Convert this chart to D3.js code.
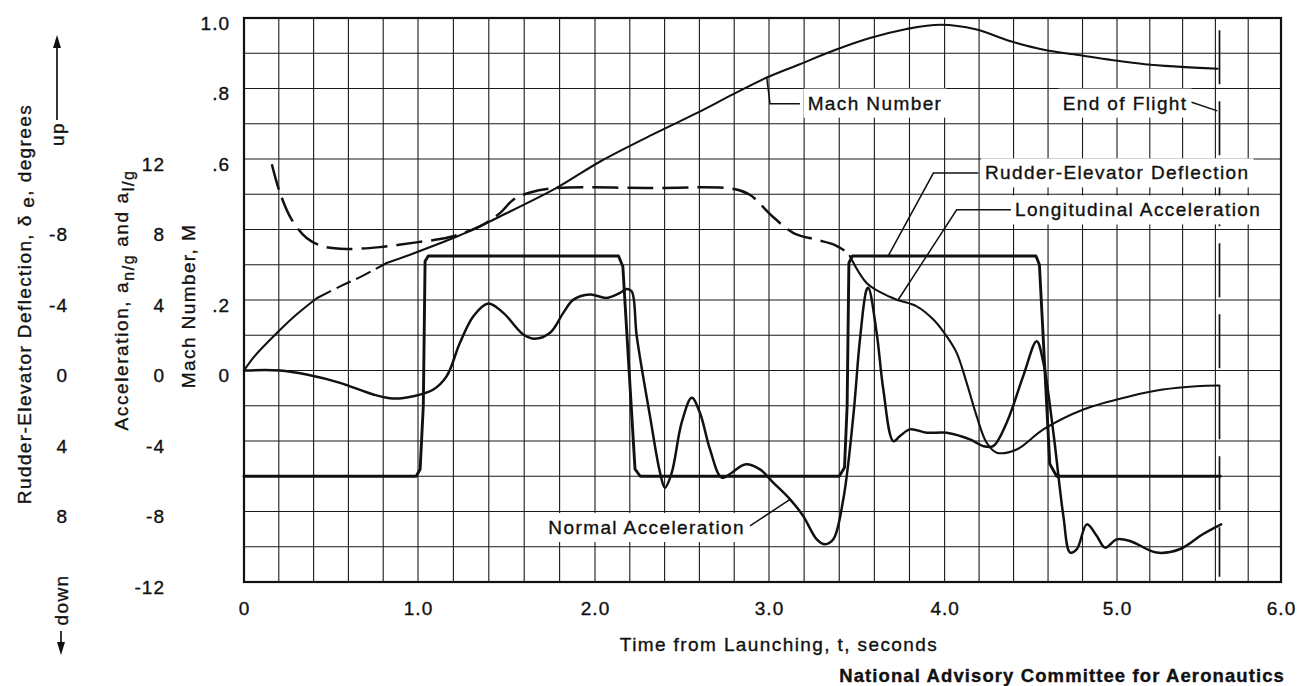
<!DOCTYPE html>
<html>
<head>
<meta charset="utf-8">
<title>Flight record - rudder-elevator pulses</title>
<script src="https://d3js.org/d3.v7.min.js"></script>
<style>
  body { margin: 0; background: #fff; }
  text { font-family: "Liberation Sans", Arial, sans-serif; fill: #111; stroke: #111; stroke-width: 0.35px; }
</style>
</head>
<body>
<div id="chart"></div>
<script>
    // tick values
    const timeTicks = [0, 1, 2, 3, 4, 5, 6];
    const machTicks = [0, 0.2, 0.6, 0.8, 1.0];      // .4 is not labelled on the original
    const accelTicks = [-12, -8, -4, 0, 4, 8, 12];
    const rudderTicks = [-8, -4, 0, 4, 8];           // degrees, positive = down

    // series, each point is [t seconds, value]
    const machNumber = [[0, 0], [0.06, 0.04], [0.18, 0.102], [0.3, 0.158], [0.418, 0.205], [0.55, 0.238],
        [0.667, 0.265], [0.82, 0.305], [0.973, 0.332], [1.22, 0.38], [1.31, 0.4], [1.463, 0.437],
        [1.783, 0.518], [2.03, 0.593], [2.35, 0.674], [2.584, 0.73], [2.795, 0.784], [2.987, 0.831],
        [3.176, 0.869], [3.376, 0.909], [3.575, 0.943], [3.784, 0.969], [3.98, 0.981], [4.18, 0.968],
        [4.389, 0.933], [4.582, 0.909], [4.776, 0.895], [4.969, 0.881], [5.17, 0.869], [5.372, 0.862],
        [5.614, 0.856]];
    const machDashed = [0.418, 0.82];   // stretch drawn broken on the original

    const rudderDeflection = [[0, 6], [0.99, 6], [1.012, 5.6], [1.03, 2], [1.04, -6.2], [1.058, -6.5],
        [2.135, -6.5], [2.16, -5.9], [2.23, 5.6], [2.26, 6], [3.4, 6], [3.43, 5.5], [3.445, 2],
        [3.455, -6.1], [3.475, -6.5], [4.53, -6.5], [4.55, -6.0], [4.61, 5.3], [4.65, 6], [5.63, 6]];

    // longitudinal acceleration while the rocket burns (dashed) and after it
    const boostLongAccel = [[0.16, 11.7], [0.207, 10.07], [0.274, 8.56], [0.36, 7.52], [0.456, 7.04],
        [0.59, 6.9], [0.78, 7.0], [0.99, 7.27], [1.18, 7.57], [1.35, 8.18], [1.463, 8.93], [1.538, 9.69],
        [1.633, 10.1], [1.78, 10.35], [2.3, 10.35], [2.8, 10.3], [2.89, 9.97], [3.02, 8.74], [3.14, 7.8],
        [3.27, 7.42], [3.37, 7.14], [3.46, 6.6]];
    const longAccel = [[3.46, 6.5], [3.556, 4.97], [3.642, 4.4], [3.727, 4.02], [3.841, 3.64],
        [3.936, 2.89], [4.012, 1.94], [4.07, 1.0], [4.128, -0.7], [4.186, -2.59], [4.244, -4.1],
        [4.302, -4.66], [4.418, -4.48], [4.573, -3.34], [4.805, -2.21], [5.079, -1.46], [5.279, -1.08],
        [5.483, -0.89], [5.624, -0.85]];

    const normalAccel = [[0, 0], [0.207, 0], [0.36, -0.23], [0.552, -0.7], [0.743, -1.36], [0.858, -1.59],
        [0.973, -1.46], [1.087, -1.08], [1.162, -0.32], [1.237, 1.57], [1.313, 3.08], [1.397, 3.8],
        [1.482, 3.27], [1.595, 2.04], [1.661, 1.8], [1.746, 2.14], [1.821, 3.27], [1.878, 4.02],
        [1.972, 4.31], [2.067, 4.12], [2.144, 4.4], [2.182, 4.63], [2.211, 4.49], [2.24, 1.94],
        [2.316, -2.59], [2.374, -5.8], [2.402, -6.65], [2.441, -5.8], [2.498, -2.96], [2.556, -1.55],
        [2.603, -2.4], [2.661, -4.48], [2.728, -6.08], [2.786, -5.8], [2.862, -5.33], [2.948, -5.61],
        [3.024, -6.36], [3.12, -7.31], [3.195, -8.26], [3.272, -9.58], [3.319, -9.86], [3.366, -9.58],
        [3.423, -7.31], [3.48, -2.59], [3.518, 1.76], [3.556, 4.59], [3.566, 4.69], [3.613, 2.14],
        [3.651, -1.08], [3.708, -4.01], [3.746, -3.72], [3.803, -3.34], [3.898, -3.53], [4.012, -3.53],
        [4.147, -3.91], [4.224, -4.29], [4.282, -4.29], [4.36, -2.96], [4.456, -0.32], [4.534, 1.66],
        [4.573, 0.44], [4.631, -3.53], [4.689, -8.26], [4.728, -10.33], [4.767, -10.14], [4.825, -8.73],
        [4.883, -9.39], [4.931, -10.05], [4.998, -9.58], [5.079, -9.67], [5.241, -10.33], [5.382, -10.14],
        [5.523, -9.29], [5.635, -8.73]];

    const endOfFlight = 5.625;

    let W = 1298, H = 686;
    let svg = d3.select("#chart").append("svg")
        .attr("width", W)
        .attr("height", H);

    // the scanned grid is a little uneven left to right, so each whole second is pinned
    let x = d3.scaleLinear().domain(timeTicks).range([244, 418, 595, 769, 944.6, 1117, 1281]);
    let yA = d3.scaleLinear().domain([-12, 20]).range([582, 18]);       // acceleration, g
    let yM = d3.scaleLinear().domain([0, 1]).range([yA(0), yA(20)]);    // Mach number
    let yR = d3.scaleLinear().domain([12, -20]).range([582, 18]);       // rudder, degrees

    // grid: 0.2 s by 2 g
    let grid = svg.append("g").attr("stroke", "#1a1a1a").attr("stroke-width", 1.1);
    grid.selectAll(".v").data(d3.range(1, 30)).enter().append("line")
        .attr("x1", d => x(d / 5)).attr("x2", d => x(d / 5))
        .attr("y1", yA(20)).attr("y2", yA(-12));
    grid.selectAll(".h").data(d3.range(-10, 20, 2)).enter().append("line")
        .attr("x1", x(0)).attr("x2", x(6))
        .attr("y1", d => yA(d)).attr("y2", d => yA(d));
    svg.append("rect")
        .attr("x", x(0)).attr("y", yA(20))
        .attr("width", x(6) - x(0)).attr("height", yA(-12) - yA(20))
        .attr("fill", "none").attr("stroke", "#111").attr("stroke-width", 2.2);

    let lineOf = ys => d3.line()
        .x(d => x(d[0]))
        .y(d => ys(d[1]))
        .curve(d3.curveCatmullRom.alpha(0.5));

    let curves = svg.append("g").attr("fill", "none").attr("stroke", "#111")
        .attr("stroke-linejoin", "round").attr("stroke-linecap", "round");

    curves.append("path").attr("d", lineOf(yM)(machNumber.filter(d => d[0] <= machDashed[0])))
        .attr("stroke-width", 2.1);
    curves.append("path").attr("d", lineOf(yM)(machNumber.filter(d => d[0] >= machDashed[0] && d[0] <= machDashed[1])))
        .attr("stroke-width", 2.1).attr("stroke-dasharray", "16,6").attr("stroke-linecap", "butt");
    curves.append("path").attr("d", lineOf(yM)(machNumber.filter(d => d[0] >= machDashed[1])))
        .attr("stroke-width", 2.1);

    curves.append("path").attr("d", lineOf(yA)(boostLongAccel))
        .attr("stroke-width", 2.5).attr("stroke-dasharray", "26,9").attr("stroke-linecap", "butt");
    curves.append("path").attr("d", lineOf(yA)(longAccel)).attr("stroke-width", 2.1);
    curves.append("path").attr("d", lineOf(yA)(normalAccel)).attr("stroke-width", 2.5);
    curves.append("path")
        .attr("d", d3.line().x(d => x(d[0])).y(d => yR(d[1]))(rudderDeflection))
        .attr("stroke-width", 2.9);

    // end of flight marker
    svg.append("line")
        .attr("x1", x(endOfFlight)).attr("x2", x(endOfFlight))
        .attr("y1", yA(19.3)).attr("y2", yA(-11.7))
        .attr("stroke", "#111").attr("stroke-width", 1.7)
        .attr("stroke-dasharray", "54,17");

    // axes (labels only, the grid carries the lines)
    let fmtMach = d => d === 0 ? "0" : d === 1 ? "1.0" : d3.format(".1f")(d).slice(1);
    let styleAxis = g => {
        g.select(".domain").remove();
        g.attr("font-size", 19).attr("font-family", null).style("letter-spacing", "1px");
    };

    svg.append("g").attr("transform", "translate(0," + yA(-12) + ")")
        .call(d3.axisBottom(x).tickValues(timeTicks).tickSize(0).tickPadding(20)
            .tickFormat(d => d ? d.toFixed(1) : "0"))
        .call(styleAxis);
    svg.append("g").attr("transform", "translate(233,5)")
        .call(d3.axisLeft(yM).tickValues(machTicks).tickSize(0).tickPadding(3).tickFormat(fmtMach))
        .call(styleAxis);
    svg.append("g").attr("transform", "translate(168,5)")
        .call(d3.axisLeft(yA).tickValues(accelTicks).tickSize(0).tickPadding(3).tickFormat(String))
        .call(styleAxis);
    svg.append("g").attr("transform", "translate(71,5)")
        .call(d3.axisLeft(yR).tickValues(rudderTicks).tickSize(0).tickPadding(3).tickFormat(String))
        .call(styleAxis);

    // axis titles
    let titles = svg.append("g").attr("font-size", 19).style("letter-spacing", "1.4px");

    let tr = titles.append("text").attr("transform", "translate(24,304) rotate(-90)")
        .attr("text-anchor", "middle").attr("dy", "0.35em");
    tr.append("tspan").text("Rudder-Elevator Deflection, \u03b4 ");
    tr.append("tspan").attr("dy", 3).text("e");
    tr.append("tspan").attr("dy", -3).text(", degrees");

    let ta = titles.append("text").attr("transform", "translate(121,300) rotate(-90)")
        .attr("text-anchor", "middle").attr("dy", "0.35em").style("letter-spacing", "1.6px");
    ta.append("tspan").text("Acceleration, a");
    ta.append("tspan").attr("dy", 6).attr("font-size", 16).text("n/g");
    ta.append("tspan").attr("dy", -6).text(" and a");
    ta.append("tspan").attr("dy", 6).attr("font-size", 16).text("l/g");

    titles.append("text").attr("transform", "translate(188,306) rotate(-90)")
        .attr("text-anchor", "middle").attr("dy", "0.35em")
        .text("Mach Number, M");

    titles.append("text").attr("transform", "translate(57,134) rotate(-90)")
        .attr("text-anchor", "middle").attr("dy", "0.35em").text("up");
    titles.append("text").attr("transform", "translate(61,600) rotate(-90)")
        .attr("text-anchor", "middle").attr("dy", "0.35em").text("down");

    let arrows = svg.append("g").attr("stroke", "#111").attr("fill", "#111").attr("stroke-width", 1.7);
    arrows.append("line").attr("x1", 57).attr("x2", 57).attr("y1", 120).attr("y2", 44);
    arrows.append("path").attr("d", "M57,35 L53,48 L61,48 Z").attr("stroke", "none");
    arrows.append("line").attr("x1", 61).attr("x2", 61).attr("y1", 631).attr("y2", 644);
    arrows.append("path").attr("d", "M61,655 L57,642 L65,642 Z").attr("stroke", "none");

    titles.append("text").attr("x", 779).attr("y", 644).attr("dy", "0.35em")
        .attr("text-anchor", "middle")
        .text("Time from Launching, t, seconds");
    titles.append("text").attr("x", 1285).attr("y", 676).attr("dy", "0.35em")
        .attr("text-anchor", "end").attr("font-weight", "bold").attr("font-size", 18.5)
        .style("letter-spacing", "1.1px")
        .text("National Advisory Committee for Aeronautics");

    // curve labels with leaders, positions in [t, g]
    const notes = [
        {label: "Mach Number", at: [3.22, 15.18], anchor: "start",
            leader: [[2.987, 16.62], [3.006, 15.13], [3.176, 15.13]]},
        {label: "End of Flight", at: [5.43, 15.18], anchor: "end",
            leader: [[5.442, 15.26], [5.612, 14.73]]},
        {label: "Rudder-Elevator Deflection", at: [4.234, 11.22], anchor: "start",
            leader: [[3.679, 6.5], [3.936, 11.2], [4.195, 11.2]]},
        {label: "Longitudinal Acceleration", at: [4.408, 9.12], anchor: "start",
            leader: [[3.735, 4.0], [4.07, 9.12], [4.389, 9.12]]},
        {label: "Normal Acceleration", at: [2.862, -8.9], anchor: "end",
            leader: [[2.891, -8.82], [3.12, -7.31]]}
    ];

    let leaderLine = d3.line().x(d => x(d[0])).y(d => yA(d[1]));
    let noteG = svg.append("g").attr("font-size", 19).style("letter-spacing", "1.4px");
    notes.forEach(n => {
        noteG.append("path").attr("d", leaderLine(n.leader))
            .attr("fill", "none").attr("stroke", "#111").attr("stroke-width", 1.5);
    });
    notes.forEach(n => {
        let box = noteG.append("rect").attr("fill", "#fff");
        let t = noteG.append("text")
            .attr("x", x(n.at[0])).attr("y", yA(n.at[1])).attr("dy", "0.35em")
            .attr("text-anchor", n.anchor)
            .text(n.label);
        let bb = t.node().getBBox();
        box.attr("x", bb.x - 4).attr("y", bb.y - 4)
            .attr("width", bb.width + 8).attr("height", bb.height + 8);
    });
</script>
</body>
</html>
